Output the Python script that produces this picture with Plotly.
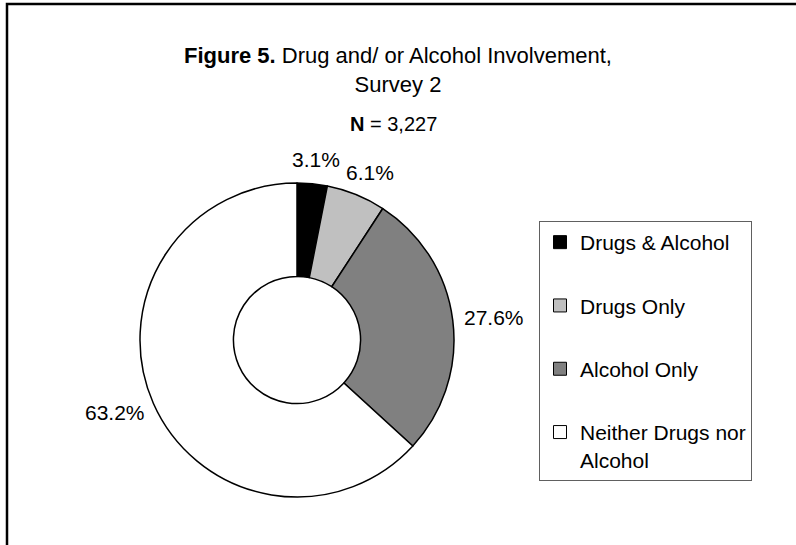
import math
import plotly.graph_objects as go

# Survey 2 drug / alcohol involvement (N = 3,227)
categories = ['Drugs & Alcohol', 'Drugs Only', 'Alcohol Only', 'Neither Drugs nor Alcohol']
legend_labels = ['Drugs & Alcohol', 'Drugs Only', 'Alcohol Only', 'Neither Drugs nor<br>Alcohol']
percentages = [3.1, 6.1, 27.6, 63.2]
slice_colors = ['#000000', '#C0C0C0', '#808080', '#FFFFFF']

W, H = 796, 545
FONT = 'Liberation Sans, Arial, sans-serif'

# donut placement in pixels
CX, CY, R = 297, 340, 157
LABEL_SIZE = 21


def px_x(v):
    return v / W


def px_y(v):
    return 1 - v / H


fig = go.Figure()

fig.add_trace(go.Pie(
    labels=categories,
    values=percentages,
    hole=0.405,
    sort=False,
    direction='clockwise',
    rotation=0,
    marker=dict(colors=slice_colors, line=dict(color='#000000', width=1.5)),
    textinfo='none',
    domain=dict(x=[px_x(CX - R), px_x(CX + R)], y=[px_y(CY + R), px_y(CY - R)]),
    showlegend=False,
    hoverinfo='label+percent',
))

# percentage labels sit just outside each slice, centred on its mid angle
annotations = []
total = sum(percentages)
cum = 0.0
for val in percentages:
    mid = (cum + val / 2) / total * 2 * math.pi
    cum += val
    txt = f'{val:.1f}%'
    half_w = 0.28 * LABEL_SIZE * len(txt)
    half_h = 12
    s, c = math.sin(mid), math.cos(mid)
    lx = CX + (R + 12) * s + half_w * s
    ly = CY - (R + 12) * c - half_h * c
    annotations.append(dict(
        text=txt, x=px_x(lx), y=px_y(ly), xref='paper', yref='paper',
        xanchor='center', yanchor='middle', showarrow=False,
        font=dict(family=FONT, size=LABEL_SIZE, color='#000000'),
    ))

annotations += [
    dict(text='<b>Figure 5.</b> Drug and/ or Alcohol Involvement,<br>Survey 2',
         x=px_x(398), y=px_y(70), xref='paper', yref='paper',
         xanchor='center', yanchor='middle',
         showarrow=False, font=dict(family=FONT, size=22, color='#000000')),
    dict(text='<b>N</b> = 3,227',
         x=px_x(393), y=px_y(124), xref='paper', yref='paper',
         xanchor='center', yanchor='middle',
         showarrow=False, font=dict(family=FONT, size=20, color='#000000')),
]

# legend entries (square swatches like the spreadsheet legend)
for name, col in zip(legend_labels, slice_colors):
    fig.add_trace(go.Scatter(
        x=[None], y=[None], mode='markers', name=name,
        legendgroup=name,
        marker=dict(symbol='square', size=13, color=col,
                    line=dict(color='#000000', width=1)),
    ))

fig.update_layout(
    width=W, height=H,
    margin=dict(l=0, r=0, t=0, b=0),
    paper_bgcolor='white', plot_bgcolor='white',
    font=dict(family=FONT, color='#000000'),
    xaxis=dict(visible=False), yaxis=dict(visible=False),
    legend=dict(
        x=px_x(539), y=px_y(221), xanchor='left', yanchor='top',
        bordercolor='#606060', borderwidth=1,
        font=dict(family=FONT, size=21, color='#000000'),
        tracegroupgap=33, valign='top', itemwidth=30,
    ),
    annotations=annotations,
    shapes=[
        dict(type='path', xref='paper', yref='paper',
             path=f'M {px_x(7)},{px_y(H + 5)} L {px_x(7)},{px_y(4)} L {px_x(W + 5)},{px_y(4)}',
             line=dict(color='#000000', width=2.5)),
    ],
)

fig.write_html('out.html', config={'displayModeBar': False},
               post_script="document.body.style.margin='0';")
